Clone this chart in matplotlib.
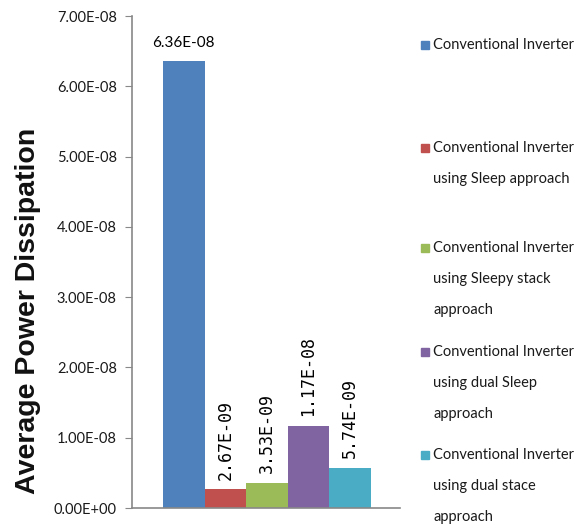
import matplotlib
matplotlib.use('Agg')
import matplotlib.pyplot as plt
from matplotlib.patches import Rectangle

# data
labels = ['Conventional Inverter',
          'Conventional Inverter\nusing Sleep approach',
          'Conventional Inverter\nusing Sleepy stack\napproach',
          'Conventional Inverter\nusing dual Sleep\napproach',
          'Conventional Inverter\nusing dual stace\napproach']
values = [6.36e-08, 2.67e-09, 3.53e-09, 1.17e-08, 5.74e-09]
value_text = ['6.36E-08', '2.67E-09', '3.53E-09', '1.17E-08', '5.74E-09']
yticks = [0, 1e-08, 2e-08, 3e-08, 4e-08, 5e-08, 6e-08, 7e-08]
ytick_labels = ['0.00E+00', '1.00E-08', '2.00E-08', '3.00E-08',
                '4.00E-08', '5.00E-08', '6.00E-08', '7.00E-08']
colors = ['#4F81BD', '#C0504D', '#9BBB59', '#8064A2', '#4BACC6']

narrow = ['Lato', 'DejaVu Sans']

W, H = 581, 528
fig = plt.figure(figsize=(W/100, H/100), dpi=100)
ax = fig.add_axes([132/W, 1-508/H, (400-132)/W, (508-16)/H])

x = list(range(len(values)))
bars = ax.bar(x, values, width=1.0, color=colors)
ax.set_xlim(-1.245, 5.2)
ax.set_ylim(0, 7e-08)
ax.set_yticks(yticks)
ax.set_yticklabels(ytick_labels, family=narrow, fontsize=10.5, color='#1a1a1a')
ax.set_xticks([])
ax.tick_params(axis='y', direction='out', length=5, color='#888888', pad=6)
for s in ['top', 'right']:
    ax.spines[s].set_visible(False)
for s in ['left', 'bottom']:
    ax.spines[s].set_color('#888888')
    ax.spines[s].set_linewidth(1.2)

fig.text(28/W, 1-311/H, 'Average Power Dissipation', rotation=90,
         ha='center', va='center', fontsize=20.5, fontweight='bold',
         family=['Liberation Sans', 'DejaVu Sans'], color='#111111')

for i, (v, t) in enumerate(zip(values, value_text)):
    if i == 0:
        ax.annotate(t, (i, v), xytext=(0, 8), textcoords='offset points',
                    ha='center', va='bottom', fontsize=11, family=narrow)
    else:
        ax.annotate(t, (i, v), xytext=(0, 7), textcoords='offset points',
                    ha='center', va='bottom', rotation=90, fontsize=12,
                    family=['DejaVu Sans Mono'])

# legend drawn by hand, Excel style
first_y = [45, 148, 248, 352, 455]
pitch = 31
for lab, c, y0 in zip(labels, colors, first_y):
    fig.patches.append(Rectangle((421/W, 1-(y0+4)/H), 8/W, 8/H,
                                 transform=fig.transFigure, color=c))
    for k, line in enumerate(lab.split('\n')):
        fig.text(433/W, 1-(y0+k*pitch)/H, line, ha='left', va='center',
                 fontsize=10.5, family=narrow, color='#1a1a1a')

plt.savefig('out.png', dpi=100)
